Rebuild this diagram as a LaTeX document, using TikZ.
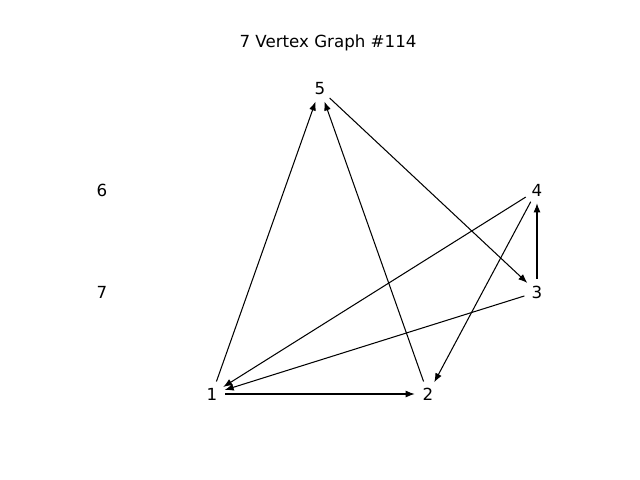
\documentclass[tikz,border=0pt]{standalone}
\usepackage{fontspec}
\setmainfont{DejaVu Sans}
\usetikzlibrary{arrows.meta}
\begin{document}
\begin{tikzpicture}[x=0.72pt,y=-0.72pt,
  vtx/.style={circle,inner sep=0pt,minimum size=18.7pt,font=\fontsize{12pt}{14pt}\selectfont},
  edge/.style={-{Latex[length=6.5pt,width=5pt]},line width=0.75pt}]
\useasboundingbox (0,0) rectangle (640,480);
\node[font=\fontsize{12pt}{14pt}\selectfont] (title) at (328,43) {7 Vertex Graph \#114};
\node[vtx] (n1) at (212,394) {1};
\node[vtx] (n2) at (428,394) {2};
\node[vtx] (n3) at (537,292) {3};
\node[vtx] (n4) at (537,190) {4};
\node[vtx] (n5) at (320,89) {5};
\node[vtx] (n6) at (102,190) {6};
\node[vtx] (n7) at (102,292) {7};
\draw[edge] (n1) -- (n5);
\draw[edge] (n2) -- (n5);
\draw[edge] (n5) -- (n3);
\draw[edge] (n4) -- (n1);
\draw[edge] (n4) -- (n2);
\draw[edge] (n3) -- (n4);
\draw[edge] (n3) -- (n1);
\draw[edge] (n1) -- (n2);
\end{tikzpicture}
\end{document}
